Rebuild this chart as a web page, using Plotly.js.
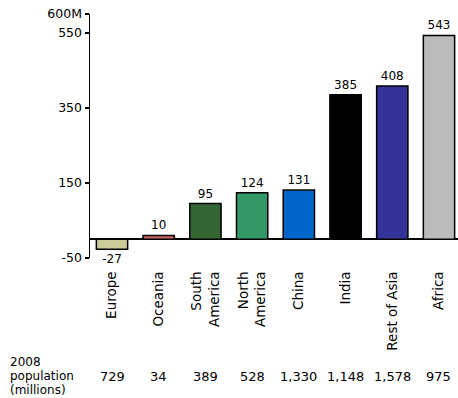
<!DOCTYPE html>
<html>
<head>
<meta charset="utf-8">
<script src="https://cdn.plot.ly/plotly-3.0.1.min.js"></script>
<style>html,body{margin:0;padding:0;background:#fff;}#chart{width:458px;height:398px;}</style>
</head>
<body>
<div id="chart"></div>
<script>
const categories = ["Europe", "Oceania", "South<br>America", "North<br>America", "China", "India", "Rest of Asia", "Africa"];
const growth = [-27, 10, 95, 124, 131, 385, 408, 543];
const population2008 = ["729", "34", "389", "528", "1,330", "1,148", "1,578", "975"];
const rowLabel = ["2008", "population", "(millions)"];
const barColors = ["#cccc99", "#cc6666", "#336633", "#339966", "#0066cc", "#000000", "#333399", "#bbbbbb"];
const yTickVals = [-50, 150, 350, 550, 600];
const yTickText = ["-50", "150", "350", "550", "600M"];

const fam = "DejaVu Sans, Verdana, sans-serif";
const xIdx = categories.map((c, i) => i);

const trace = {
  type: "bar",
  x: xIdx,
  y: growth,
  marker: {color: barColors, line: {color: "#000", width: 1.5}},
  text: growth.map(String),
  textposition: "outside",
  textfont: {family: fam, size: 12, color: "#000"},
  cliponaxis: false,
  hoverinfo: "none"
};

// plot area: top 14, height 244 -> paper y for a pixel row
const py = (px) => (258 - px) / 244;

const annotations = [];
rowLabel.forEach((t, k) => {
  annotations.push({
    text: t, xref: "paper", yref: "paper", x: -0.222, y: py(362 + 14 * k),
    xanchor: "left", yanchor: "middle", align: "left", showarrow: false,
    font: {family: fam, size: 12, color: "#000"}
  });
});
population2008.forEach((p, i) => {
  annotations.push({
    text: p, xref: "x", yref: "paper", x: i, y: py(376), xanchor: "center", yanchor: "middle",
    showarrow: false, font: {family: fam, size: 13, color: "#000"}
  });
});

const layout = {
  width: 458, height: 398,
  margin: {l: 90, r: 0, t: 14, b: 140},
  paper_bgcolor: "#fff", plot_bgcolor: "#fff",
  font: {family: fam, size: 12, color: "#000"},
  showlegend: false,
  bargap: 0.33,
  xaxis: {
    range: [-0.471, 7.407],
    tickvals: xIdx, ticktext: categories,
    tickangle: -90,
    showgrid: false, zeroline: false, showline: false,
    ticks: "outside", ticklen: 7, tickcolor: "rgba(0,0,0,0)",
    tickfont: {family: fam, size: 13.5, color: "#000"}, fixedrange: true
  },
  yaxis: {
    range: [-50, 600],
    tickvals: yTickVals, ticktext: yTickText,
    showgrid: false,
    zeroline: true, zerolinecolor: "#000", zerolinewidth: 1.5,
    showline: true, linecolor: "#000", linewidth: 1.5,
    ticks: "outside", ticklen: 4, tickwidth: 1.5, tickcolor: "#000",
    tickfont: {family: fam, size: 12.5, color: "#000"}, fixedrange: true
  },
  annotations: annotations
};

Plotly.newPlot("chart", [trace], layout, {displayModeBar: false, staticPlot: true});
</script>
</body>
</html>
